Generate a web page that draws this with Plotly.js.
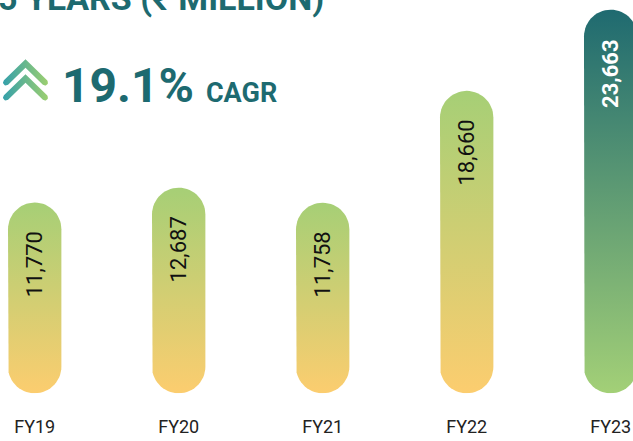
<!DOCTYPE html>
<html><head><meta charset="utf-8">
<script src="https://cdn.plot.ly/plotly-3.0.1.min.js"></script>
<style>html,body{margin:0;padding:0;background:#fff;overflow:hidden}</style>
</head><body>
<div id="chart" style="width:633px;height:441px"></div>
<script>
// ---- data ----
const categories = ['FY19', 'FY20', 'FY21', 'FY22', 'FY23'];
const revenue = [11770, 12687, 11758, 18660, 23663];
const valueLabels = ['11,770', '12,687', '11,758', '18,660', '23,663'];
const titleText = '5 YEARS (₹ MILLION)';
const cagrValue = '19.1%';
const cagrLabel = 'CAGR';

// ---- layout parameters ----
const W = 633, H = 441;
const xRange = [-0.241, 4.155];
const yDomain = [0.108, 1];
const yRange = [0, 24263];
const R = 26.7; // pill radius in px
const plotHpx = H * (yDomain[1] - yDomain[0]);
const hw = R * (xRange[1] - xRange[0]) / W;
const ry = R * (yRange[1] - yRange[0]) / plotHpx;
const teal = '#1d6a70';

function pill(i, v) {
  const xs = [], ys = [], n = 30;
  for (let k = 0; k <= n; k++) { const t = Math.PI * k / n; xs.push(i + hw * Math.cos(t)); ys.push(v - ry + ry * Math.sin(t)); }
  for (let k = 0; k <= n; k++) { const t = Math.PI + Math.PI * k / n; xs.push(i + hw * Math.cos(t)); ys.push(ry + ry * Math.sin(t)); }
  xs.push(xs[0]); ys.push(ys[0]);
  return { xs, ys };
}

const traces = [];
revenue.forEach((v, i) => {
  const p = pill(i, v);
  const last = i === revenue.length - 1;
  traces.push({
    type: 'scatter', mode: 'lines', x: p.xs, y: p.ys, fill: 'toself',
    line: { width: 0, color: 'rgba(0,0,0,0)' },
    fillgradient: {
      type: 'vertical',
      colorscale: last ? [[0, '#a3d077'], [1, '#1f6a70']] : [[0, '#fccd6f'], [1, '#a6cf76']]
    },
    hoverinfo: 'skip', showlegend: false, xaxis: 'x', yaxis: 'y'
  });
});

// chevron icon (decoration) drawn in pixel space on a second subplot
function thick(pts, w) {
  const h = w / 2, n = pts.length, normals = [];
  for (let i = 0; i < n - 1; i++) {
    const dx = pts[i + 1][0] - pts[i][0], dy = pts[i + 1][1] - pts[i][1], l = Math.hypot(dx, dy);
    normals.push([-dy / l, dx / l]);
  }
  const L = [], Rr = [];
  for (let i = 0; i < n; i++) {
    let nx, ny, s = h;
    if (i === 0) [nx, ny] = normals[0];
    else if (i === n - 1) [nx, ny] = normals[n - 2];
    else {
      const a = normals[i - 1], b = normals[i];
      let mx = a[0] + b[0], my = a[1] + b[1]; const ml = Math.hypot(mx, my); mx /= ml; my /= ml;
      s = h / (mx * b[0] + my * b[1]); nx = mx; ny = my;
    }
    L.push([pts[i][0] + nx * s, pts[i][1] + ny * s]);
    Rr.push([pts[i][0] - nx * s, pts[i][1] - ny * s]);
  }
  const poly = [...L];
  const ne = normals[n - 2], de = [ne[1], -ne[0]];
  for (let k = 1; k < 12; k++) { const t = Math.PI * k / 12; poly.push([pts[n-1][0] + h * (ne[0] * Math.cos(t) + de[0] * Math.sin(t)), pts[n-1][1] + h * (ne[1] * Math.cos(t) + de[1] * Math.sin(t))]); }
  for (let i = n - 1; i >= 0; i--) poly.push(Rr[i]);
  const ns = normals[0], ds = [-ns[1], ns[0]];
  for (let k = 1; k < 12; k++) { const t = Math.PI * k / 12; poly.push([pts[0][0] - h * (ns[0] * Math.cos(t) - ds[0] * Math.sin(t)), pts[0][1] - h * (ns[1] * Math.cos(t) - ds[1] * Math.sin(t))]); }
  poly.push(poly[0]);
  return poly;
}
const chevrons = [
  [[6, 82.5], [25.5, 63.5], [45, 82.5]],
  [[6, 97.5], [25.5, 78.5], [45, 97.5]]
];
chevrons.forEach(c => {
  const poly = thick(c, 6);
  traces.push({
    type: 'scatter', mode: 'lines', x: poly.map(p => p[0]), y: poly.map(p => p[1]), fill: 'toself',
    line: { width: 0, color: 'rgba(0,0,0,0)' },
    fillgradient: { type: 'horizontal', colorscale: [[0, '#35a0aa'], [1, '#9ccf70']] },
    hoverinfo: 'skip', showlegend: false, xaxis: 'x2', yaxis: 'y2'
  });
});

const annotations = [];
revenue.forEach((v, i) => {
  const last = i === revenue.length - 1;
  annotations.push({
    x: i, y: v, xref: 'x', yref: 'y', text: last ? '<b>' + valueLabels[i] + '</b>' : valueLabels[i],
    textangle: -90, showarrow: false, xanchor: 'center', yanchor: 'top', yshift: -27,
    font: { family: 'Roboto, sans-serif', size: 22, color: last ? '#ffffff' : '#111111' }
  });
});
annotations.push({
  x: 0, y: 1, xref: 'paper', yref: 'paper', xanchor: 'left', yanchor: 'middle', xshift: -4, yshift: 2,
  text: '<b>' + titleText + '</b>', showarrow: false,
  font: { family: 'Roboto, sans-serif', size: 34, color: teal }
});
annotations.push({
  x: 60 / W, y: 1 - 85 / H, xref: 'paper', yref: 'paper', xanchor: 'left', yanchor: 'middle',
  text: '<b><span style="font-size:48px">' + cagrValue + ' </span><span style="font-size:27px">' + cagrLabel + '</span></b>',
  showarrow: false, font: { family: 'Roboto, sans-serif', size: 48, color: teal }
});

const layout = {
  width: W, height: H,
  margin: { l: 0, r: 0, t: 0, b: 0 },
  paper_bgcolor: '#ffffff', plot_bgcolor: 'rgba(0,0,0,0)',
  showlegend: false,
  xaxis: {
    domain: [0, 1], range: xRange, anchor: 'y',
    tickvals: categories.map((c, i) => i), ticktext: categories,
    showgrid: false, zeroline: false, showline: false, ticks: '',
    ticklabelstandoff: 21,
    tickfont: { family: 'Roboto, sans-serif', size: 18, color: '#222222' },
    fixedrange: true
  },
  yaxis: {
    domain: yDomain, range: yRange, anchor: 'x', visible: false,
    showgrid: false, zeroline: false, fixedrange: true
  },
  xaxis2: { domain: [0, 1], range: [0, W], anchor: 'y2', visible: false, fixedrange: true },
  yaxis2: { domain: [0, 1], range: [H, 0], anchor: 'x2', visible: false, fixedrange: true },
  annotations: annotations
};

Plotly.newPlot('chart', traces, layout, { staticPlot: true, displayModeBar: false });
</script>
</body></html>
